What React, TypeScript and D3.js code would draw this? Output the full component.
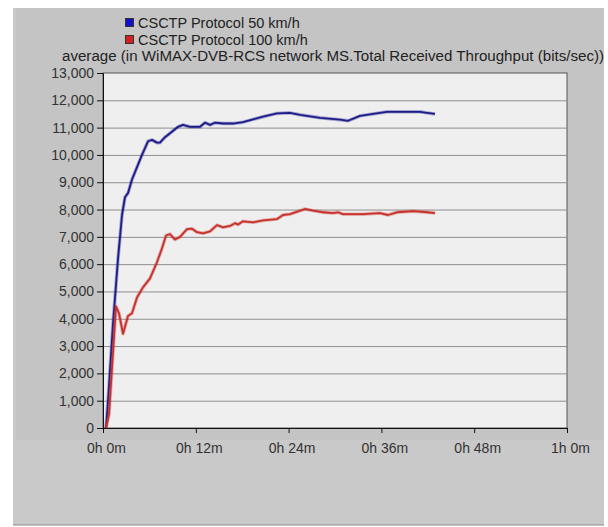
import React, { useEffect, useRef } from 'react';
import * as d3 from 'd3';

// minutes since start, throughput in bits/sec
const blueMinutes = [0.39, 0.65, 1.29, 1.94, 2.46, 2.84, 3.23, 3.75, 4.4, 5.04, 5.82, 6.34, 6.98, 7.37, 8.02, 8.92, 9.7, 10.34, 11.25, 12.54, 13.19, 13.84, 14.48, 15.52, 16.81, 18.1, 19.4, 20.69, 22.5, 24.18, 25.47, 28.06, 30.65, 31.68, 33.23, 34.91, 36.72, 38.41, 40.99, 41.9, 42.93];
const blueValues = [0, 1000, 3800, 6200, 7800, 8450, 8600, 9100, 9550, 10000, 10500, 10550, 10450, 10450, 10650, 10850, 11030, 11100, 11030, 11030, 11180, 11100, 11180, 11150, 11150, 11200, 11300, 11400, 11520, 11540, 11470, 11360, 11290, 11250, 11430, 11500, 11580, 11580, 11580, 11540, 11500];

const redMinutes = [0.39, 0.78, 1.68, 2.07, 2.59, 3.23, 3.75, 4.4, 5.17, 6.08, 6.98, 7.63, 8.15, 8.66, 9.31, 9.96, 10.86, 11.51, 12.16, 12.93, 13.84, 14.74, 15.52, 16.42, 17.07, 17.46, 18.1, 19.4, 20.69, 22.5, 23.28, 24.18, 24.57, 26.12, 27.16, 28.45, 29.74, 30.39, 31.03, 33.62, 35.82, 36.85, 38.02, 40.09, 41.9, 42.93];
const redValues = [0, 500, 4450, 4200, 3450, 4100, 4200, 4780, 5150, 5480, 6070, 6580, 7050, 7100, 6900, 7000, 7280, 7300, 7170, 7130, 7200, 7430, 7350, 7400, 7500, 7450, 7570, 7530, 7600, 7650, 7800, 7830, 7870, 8020, 7960, 7900, 7870, 7900, 7830, 7830, 7870, 7800, 7900, 7940, 7900, 7870];

const seriesNames = ['CSCTP Protocol 50 km/h', 'CSCTP Protocol 100 km/h'];
const seriesColors = ['#1c1c8a', '#c8312b'];
const xTicks = [0, 12, 24, 36, 48, 60];
const xTickLabels = ['0h 0m', '0h 12m', '0h 24m', '0h 36m', '0h 48m', '1h 0m'];
const yTicks = d3.range(0, 13001, 1000);
const title = 'average (in WiMAX-DVB-RCS network MS.Total Received Throughput (bits/sec))';

export default function App() {
    const ref = useRef<SVGSVGElement>(null);

    useEffect(() => {
        const svg = d3.select(ref.current);
        svg.selectAll('*').remove();
        const font = '"Liberation Sans", Arial, sans-serif';

        const plot = { left: 103, right: 567, top: 73, bottom: 428 };

        const x = d3.scaleLinear().domain([0, 60]).range([plot.left, plot.right]);
        const y = d3.scaleLinear().domain([0, 13000]).range([plot.bottom, plot.top]);

        // panel
        svg.append('rect').attr('width', 608).attr('height', 527).attr('fill', '#fff');
        svg.append('rect').attr('x', 13).attr('y', 8).attr('width', 591).attr('height', 517).attr('fill', '#c9c9c9');
        svg.append('rect').attr('x', 16).attr('y', 8).attr('width', 588).attr('height', 432).attr('fill', '#c4c4c4');
        svg.append('line').attr('x1', 13).attr('x2', 604).attr('y1', 525).attr('y2', 525).attr('stroke', '#8a8a8a');

        // plot area
        svg.append('rect')
            .attr('x', plot.left).attr('y', plot.top)
            .attr('width', plot.right - plot.left).attr('height', plot.bottom - plot.top)
            .attr('fill', '#efefef').attr('stroke', '#555');

        svg.append('g').selectAll('line')
            .data(yTicks.slice(1, -1))
            .enter().append('line')
            .attr('x1', plot.left).attr('x2', plot.right)
            .attr('y1', d => y(d) + 0.5).attr('y2', d => y(d) + 0.5)
            .attr('stroke', '#8f8f8f');

        // axes
        const yAxis = svg.append('g')
            .attr('transform', `translate(${plot.left},0)`)
            .call(d3.axisLeft(y).tickValues(yTicks).tickSize(6).tickPadding(3).tickFormat(d3.format(',')));
        const xAxis = svg.append('g')
            .attr('transform', `translate(0,${plot.bottom})`)
            .call(d3.axisBottom(x).tickValues(xTicks).tickSize(5).tickPadding(10).tickFormat((d, i) => xTickLabels[i]));
        [yAxis, xAxis].forEach(a => {
            a.select('.domain').attr('stroke', '#111');
            a.selectAll('line').attr('stroke', '#111');
            a.selectAll('text').attr('fill', '#333').style('font-family', font).style('font-size', '14px');
        });
        xAxis.selectAll('text').attr('dx', 3);

        // lines
        const line = d3.line<[number, number]>().x(d => x(d[0])).y(d => y(d[1]));
        const series = [
            d3.zip(blueMinutes, blueValues) as [number, number][],
            d3.zip(redMinutes, redValues) as [number, number][],
        ];
        series.forEach((s, i) => {
            svg.append('path').datum(s)
                .attr('d', line)
                .attr('fill', 'none')
                .attr('stroke', seriesColors[i])
                .attr('stroke-opacity', 0.35)
                .attr('stroke-width', 3.5)
                .attr('stroke-linejoin', 'round');
            svg.append('path').datum(s)
                .attr('d', line)
                .attr('fill', 'none')
                .attr('stroke', seriesColors[i])
                .attr('stroke-width', 1.8)
                .attr('stroke-linejoin', 'round');
        });

        // title
        svg.append('text')
            .attr('x', 62).attr('y', 61)
            .attr('textLength', 542)
            .attr('lengthAdjust', 'spacingAndGlyphs')
            .attr('fill', '#222')
            .style('font-family', font).style('font-size', '14px')
            .text(title);

        // legend
        const legend = svg.append('g').attr('transform', 'translate(125,18)');
        seriesNames.forEach((name, i) => {
            legend.append('rect')
                .attr('x', 0.5).attr('y', i * 17 + 0.5)
                .attr('width', 8).attr('height', 8)
                .attr('fill', i === 0 ? '#1010c8' : '#d42020')
                .attr('stroke', '#333');
            legend.append('text')
                .attr('x', 13).attr('y', i * 17 + 9.5)
                .attr('fill', '#222')
                .style('font-family', font).style('font-size', '14.5px')
                .text(name);
        });
    }, []);

    return (
        <svg ref={ref} width={608} height={527} style={{ position: 'absolute', left: 0, top: 0, display: 'block' }}></svg>
    );
}
